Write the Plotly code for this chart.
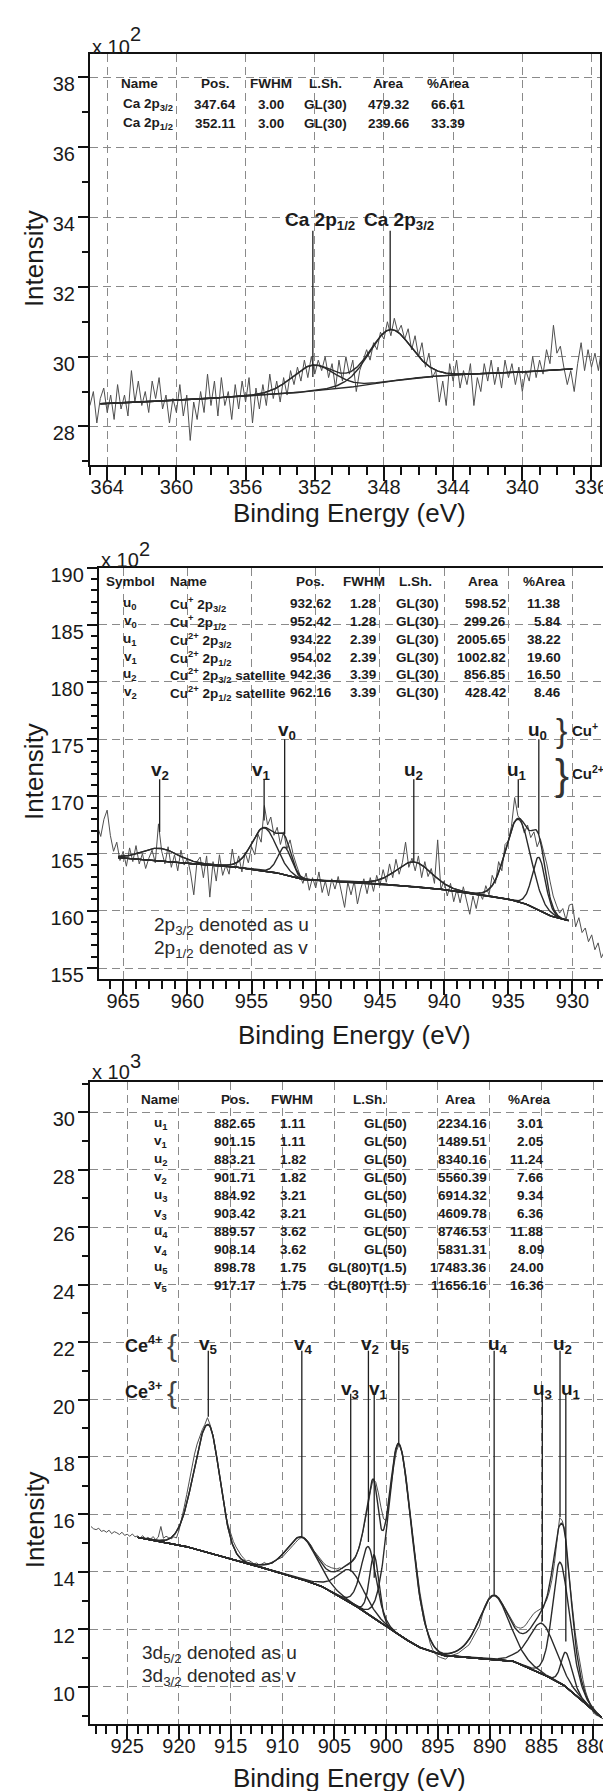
import numpy as np
import plotly.graph_objects as go

W, H = 611, 1791
FONT = "Liberation Sans, Arial, Helvetica, sans-serif"


def sub(s):
    return f'<span style="font-size:70%;baseline-shift:-0.3em">{s}</span>'


def sup(s):
    return f'<span style="font-size:70%;baseline-shift:0.6em">{s}</span>'


# ======================= Panel 1 : Ca 2p  (Intensity x 10^2) =======================
ca_e_start, ca_e_step = 365.0, 0.2
ca_counts = [
    28.6, 29.0, 28.1, 28.8, 29.1, 28.4, 28.9, 28.2, 29.2, 28.5,
    28.9, 28.3, 29.6, 28.7, 29.3, 28.6, 29.0, 28.4, 29.3, 28.8,
    29.4, 28.5, 28.9, 28.1, 28.8, 28.4, 29.2, 28.3, 28.9, 27.6,
    28.7, 28.2, 29.0, 28.4, 29.5, 28.6, 29.3, 28.3, 29.4, 28.6,
    29.0, 28.2, 29.2, 28.5, 29.3, 28.7, 29.4, 28.1, 29.1, 28.5,
    29.2, 28.6, 29.5, 28.8, 29.3, 28.7, 29.4, 28.9, 29.6, 29.2,
    29.7, 29.3, 29.9, 29.4, 30.0, 29.5, 29.9, 29.6, 30.0, 29.4,
    29.8, 29.1, 29.9, 29.3, 30.0, 29.5, 29.9, 29.0, 29.6, 29.9,
    30.2, 29.9, 30.4, 30.2, 30.7, 30.5, 31.0, 30.6, 31.1, 30.7,
    30.9, 30.5, 30.8, 30.2, 30.6, 30.0, 30.4, 29.7, 30.1, 29.4,
    29.6, 28.7, 29.3, 28.6, 29.8, 29.3, 29.9, 29.1, 29.6, 29.2,
    29.8, 28.6, 29.4, 29.0, 29.8, 29.3, 29.9, 29.2, 29.7, 29.1,
    29.9, 29.4, 29.8, 29.2, 29.7, 29.0, 29.6, 29.3, 30.0, 29.4,
    29.9, 29.5, 30.2, 29.8, 30.9, 30.1, 30.3, 29.7, 29.2, 29.6,
    29.0, 29.8, 30.4, 29.6, 30.2, 29.7, 30.1, 29.6, 30.3]
ca_bg_e = [364.4, 360.0, 356.0, 354.0, 352.0, 350.0, 348.0, 346.0, 344.0, 340.0, 337.1]
ca_bg_v = [28.65, 28.75, 28.87, 28.93, 29.02, 29.12, 29.27, 29.40, 29.48, 29.56, 29.65]
ca_names = ["Ca 2p" + sub("3/2"), "Ca 2p" + sub("1/2")]
ca_pos = [347.64, 352.11]
ca_fwhm = [3.00, 3.00]
ca_lsh = ["GL(30)", "GL(30)"]
ca_area = [479.32, 239.66]
ca_parea = [66.61, 33.39]
ca_mix = [0.3, 0.3]
ca_height = [1.48, 0.74]
ca_mark_text = ["Ca 2p" + sub("1/2"), "Ca 2p" + sub("3/2")]
ca_mark_e = [352.11, 347.64]
ca_mark_top = [33.61, 33.61]
ca_mark_bot = [29.42, 30.76]

# ======================= Panel 2 : Cu 2p  (Intensity x 10^2) =======================
cu_e_start, cu_e_step = 967.0, 0.25
cu_counts = [
    167.4, 166.5, 168.0, 168.8, 166.6, 165.2, 166.0, 164.4,
    165.2, 163.9, 165.5, 164.3, 165.7, 164.1, 165.0, 163.7,
    164.6, 165.3, 164.2, 167.6, 165.2, 164.1, 165.6, 163.8,
    164.9, 163.5, 165.3, 164.0, 164.6, 163.3, 161.4, 164.3,
    164.7, 162.9, 164.8, 161.2, 164.3, 162.6, 164.9, 163.1,
    164.0, 163.2, 165.4, 163.7, 164.8, 163.4, 165.1, 164.2,
    165.6, 164.9, 166.7, 166.0, 169.2, 167.5, 168.2, 166.6,
    167.3, 165.8, 166.9, 165.4, 166.2, 164.9, 164.0, 163.2,
    162.4, 163.3, 161.8, 162.9, 162.0, 163.4, 161.6, 162.6,
    161.3, 162.8, 161.9, 163.0, 161.7, 160.3, 162.5, 161.4,
    162.6, 160.6, 161.9, 162.8, 161.5, 162.9, 161.7, 163.1,
    162.2, 163.6, 162.5, 164.1, 162.9, 164.5, 163.2, 164.2,
    166.0, 163.8, 164.6, 163.5, 164.8, 162.9, 164.3, 163.0,
    163.7, 162.4, 166.2, 161.9, 162.6, 161.3, 162.4, 160.8,
    161.9, 160.7, 162.1, 161.0, 159.7, 161.3, 160.2, 161.6,
    161.0, 162.2, 161.4, 163.1, 162.4, 164.3, 163.5, 165.8,
    166.1, 167.4, 169.9, 168.3, 167.9, 166.8, 167.5, 166.4,
    166.9, 165.6, 166.3, 165.2, 164.1, 162.6, 161.3, 160.5,
    159.8, 160.2, 159.2, 160.5, 160.6, 158.6, 159.4, 158.1,
    158.5, 157.3, 157.9, 156.6, 157.2, 155.9, 156.5, 155.1,
    155.8]
cu_bg_e = [965.4, 962.0, 957.0, 953.3, 951.2, 945.5, 941.0, 937.7, 935.3, 933.8, 932.0, 930.6, 930.3]
cu_bg_v = [164.65, 164.3, 163.93, 163.4, 162.75, 162.4, 162.0, 161.5, 161.1, 160.7, 159.65, 159.2, 159.15]
cu_sym = ["u" + sub("0"), "v" + sub("0"), "u" + sub("1"), "v" + sub("1"), "u" + sub("2"), "v" + sub("2")]
cu_names = ["Cu" + sup("+") + " 2p" + sub("3/2"), "Cu" + sup("+") + " 2p" + sub("1/2"),
            "Cu" + sup("2+") + " 2p" + sub("3/2"), "Cu" + sup("2+") + " 2p" + sub("1/2"),
            "Cu" + sup("2+") + " 2p" + sub("3/2") + " satellite",
            "Cu" + sup("2+") + " 2p" + sub("1/2") + " satellite"]
cu_pos = [932.62, 952.42, 934.22, 954.02, 942.36, 962.16]
cu_fwhm = [1.28, 1.28, 2.39, 2.39, 3.39, 3.39]
cu_lsh = ["GL(30)"] * 6
cu_area = [598.52, 299.26, 2005.65, 1002.82, 856.85, 428.42]
cu_parea = [11.38, 5.84, 38.22, 19.60, 16.50, 8.46]
cu_mix = [0.3] * 6
cu_height = [4.66, 2.44, 7.2, 3.75, 2.15, 1.15]
cu_mark_top = [175.0, 175.0, 171.5, 171.5, 171.5, 171.5]
cu_mark_bot = [166.7, 166.7, 169.0, 167.9, 164.3, 166.9]

# ======================= Panel 3 : Ce 3d  (Intensity x 10^3) =======================
ce_e_start, ce_e_step = 928.5, 0.25
ce_counts = [
    15.58, 15.50,
    15.47, 15.52, 15.41, 15.44, 15.38, 15.45, 15.33, 15.40,
    15.36, 15.30, 15.38, 15.27, 15.31, 15.24, 15.32, 15.22,
    15.25, 15.18, 15.26, 15.15, 15.20, 15.14, 15.23, 15.12,
    15.21, 15.58, 15.17, 15.24, 15.19, 15.15, 15.22, 15.18,
    15.44, 15.80, 16.25, 16.70, 17.17, 17.65, 18.10, 18.45,
    18.73, 18.95, 19.13, 19.37, 19.13, 18.80, 18.33, 17.78,
    17.17, 16.55, 16.00, 15.62, 15.33, 15.06, 14.87, 14.70,
    14.58, 14.47, 14.38, 14.40, 14.35, 14.28, 14.31, 14.24,
    14.27, 14.33, 14.26, 14.30, 14.29, 14.36, 14.44, 14.47,
    14.52, 14.62, 14.71, 14.83, 14.92, 15.02, 15.12, 15.18,
    15.21, 15.15, 15.04, 14.93, 14.75, 14.63, 14.52, 14.41,
    14.29, 14.22, 14.17, 14.14, 14.12, 14.10, 14.14, 14.11,
    14.18, 14.22, 14.28, 14.35, 14.46, 14.70, 14.98, 15.38,
    15.79, 16.30, 16.83, 17.23, 17.12, 16.75, 16.25, 15.85,
    15.79, 16.35, 17.06, 17.70, 18.21, 18.44, 18.21, 17.62,
    16.94, 16.20, 15.44, 14.68, 13.94, 13.32, 12.79, 12.30,
    11.87, 11.52, 11.29, 11.15, 11.06, 11.02, 11.00, 10.96,
    11.06, 11.08, 11.10, 11.14, 11.18, 11.25, 11.32, 11.38,
    11.46, 11.62, 11.80, 11.95, 12.10, 12.45, 12.79, 12.98,
    13.14, 13.18, 13.20, 13.12, 13.02, 12.88, 12.73, 12.55,
    12.39, 12.24, 12.10, 12.06, 12.04, 12.08, 12.16, 12.30,
    12.45, 12.55, 12.62, 12.68, 12.73, 12.86, 13.02, 13.30,
    13.71, 14.30, 15.10, 15.88, 15.79, 15.45, 14.41, 13.50,
    12.56, 11.90, 11.29, 10.75, 10.25, 9.85, 9.56, 9.30,
    9.10, 9.02, 8.98, 8.92, 8.87]
ce_bg_e = [924.0, 920.0, 915.0, 910.0, 906.5, 904.0, 902.0, 899.4, 897.0, 894.7,
           891.2, 887.8, 885.5, 883.0, 881.3, 879.8, 879.2]
ce_bg_v = [15.20, 14.95, 14.45, 13.95, 13.55, 13.05, 12.60, 11.95, 11.40, 11.10,
           11.00, 10.90, 10.55, 10.10, 9.60, 9.10, 8.93]
ce_sym = ["u" + sub("1"), "v" + sub("1"), "u" + sub("2"), "v" + sub("2"), "u" + sub("3"),
          "v" + sub("3"), "u" + sub("4"), "v" + sub("4"), "u" + sub("5"), "v" + sub("5")]
ce_pos = [882.65, 901.15, 883.21, 901.71, 884.92, 903.42, 889.57, 908.14, 898.78, 917.17]
ce_fwhm = [1.11, 1.11, 1.82, 1.82, 3.21, 3.21, 3.62, 3.62, 1.75, 1.75]
ce_lsh = ["GL(50)"] * 8 + ["GL(80)T(1.5)"] * 2
ce_area = [2234.16, 1489.51, 8340.16, 5560.39, 6914.32, 4609.78, 8746.53, 5831.31, 17483.36, 11656.16]
ce_parea = [3.01, 2.05, 11.24, 7.66, 9.34, 6.36, 11.88, 8.09, 24.00, 16.36]
# widths (high-BE side / low-BE side), mix and heights of the drawn components
ce_w_hi = [1.11, 1.11, 1.82, 1.82, 3.21, 3.21, 3.62, 3.62, 2.5, 3.4]
ce_w_lo = [1.5, 1.11, 2.3, 1.82, 3.21, 3.21, 3.62, 3.62, 3.0, 2.7]
ce_mix = [0.5] * 8 + [0.3, 0.15]
ce_height = [1.2, 2.2, 4.2, 2.35, 1.75, 1.13, 2.22, 1.47, 6.64, 4.46]
ce_mark_top = [20.2, 20.2, 21.7, 21.7, 20.2, 20.2, 21.7, 21.7, 21.7, 21.7]
ce_mark_bot = [11.58, 13.8, 15.9, 15.04, 12.27, 14.06, 13.2, 15.21, 18.44, 19.4]

# ---------------------------------------------------------------------------------
RAW = dict(color="#4f4f4f", width=1)
FIT = dict(color="#2a2a2a", width=1.4)


def gl(x, pos, w_hi, w_lo, m, h):
    w = np.where(x > pos, w_hi, w_lo)
    d2 = ((x - pos) / w) ** 2
    return h * np.exp(-4 * np.log(2) * (1 - m) * d2) / (1 + 4 * m * d2)


fig = go.Figure()
anns = []


def T(px, py, text, size=13.5, xanchor="center", bold=False, color="#1c1c1c"):
    anns.append(dict(x=px / W, y=1 - py / H, xref="paper", yref="paper",
                     text=text, showarrow=False, xanchor=xanchor, yanchor="middle",
                     font=dict(family=FONT, size=size, color=color,
                               weight="bold" if bold else "normal")))


def add_panel(k, e_start, e_step, counts, bg_e, bg_v, pos, w_hi, w_lo, mix, height,
              mark_e, mark_top, mark_bot):
    xa, ya = ("x", "y") if k == 1 else (f"x{k}", f"y{k}")
    e = e_start - e_step * np.arange(len(counts))
    fig.add_trace(go.Scatter(x=e, y=counts, mode="lines", line=RAW, xaxis=xa, yaxis=ya))
    xg = np.linspace(bg_e[0], bg_e[-1], 700)
    bg = np.interp(xg, bg_e[::-1], bg_v[::-1])
    comps = [gl(xg, p, a, b, m, h) for p, a, b, m, h in zip(pos, w_hi, w_lo, mix, height)]
    fig.add_trace(go.Scatter(x=xg, y=bg, mode="lines", line=FIT, xaxis=xa, yaxis=ya))
    for c in comps:
        fig.add_trace(go.Scatter(x=xg, y=bg + c, mode="lines", line=FIT, xaxis=xa, yaxis=ya))
    fig.add_trace(go.Scatter(x=xg, y=bg + np.sum(comps, axis=0), mode="lines", line=FIT,
                             xaxis=xa, yaxis=ya))
    for me, mt, mb in zip(mark_e, mark_top, mark_bot):
        fig.add_trace(go.Scatter(x=[me, me], y=[mt, mb], mode="lines",
                                 line=dict(color="#1e1e1e", width=1.3), xaxis=xa, yaxis=ya))


add_panel(1, ca_e_start, ca_e_step, ca_counts, ca_bg_e, ca_bg_v, ca_pos, ca_fwhm, ca_fwhm,
          ca_mix, ca_height, ca_mark_e, ca_mark_top, ca_mark_bot)
add_panel(2, cu_e_start, cu_e_step, cu_counts, cu_bg_e, cu_bg_v, cu_pos, cu_fwhm, cu_fwhm,
          cu_mix, cu_height, cu_pos, cu_mark_top, cu_mark_bot)
add_panel(3, ce_e_start, ce_e_step, ce_counts, ce_bg_e, ce_bg_v, ce_pos, ce_w_hi, ce_w_lo,
          ce_mix, ce_height, ce_pos, ce_mark_top, ce_mark_bot)


def axis_pair(xdom, ydom, xr, yr, xt0, xdt, yt0, ydt, anchor_x, anchor_y):
    common = dict(showline=True, linecolor="#111111", linewidth=2, mirror=True,
                  ticks="outside", tickcolor="#111111", tickwidth=2,
                  showgrid=True, gridcolor="#8a8a8a", griddash="8px,5px", gridwidth=1,
                  zeroline=False, tickfont=dict(family=FONT, size=20, color="#1a1a1a"))
    xa = dict(common, domain=[xdom[0] / W, xdom[1] / W], range=xr, anchor=anchor_y,
              tick0=xt0, dtick=xdt, ticklen=14, ticklabelstandoff=-11,
              minor=dict(tick0=xt0, dtick=1, ticks="outside", ticklen=8, tickwidth=2,
                         tickcolor="#111111", showgrid=False))
    ya = dict(common, domain=[1 - ydom[1] / H, 1 - ydom[0] / H], range=yr, anchor=anchor_x,
              tick0=yt0, dtick=ydt, ticklen=10, ticklabelshift=7, ticklabelstandoff=-1,
              minor=dict(tick0=yt0, dtick=1, ticks="outside", ticklen=6, tickwidth=2,
                         tickcolor="#111111", showgrid=False))
    return xa, ya


x1, y1 = axis_pair((83, 600), (42, 456), [365.0, 335.5], [26.89, 38.68], 364, 4, 28, 2, "x", "y")
x2, y2 = axis_pair((92, 609), (559, 973), [966.9, 927.15], [154.04, 190.0], 965, 5, 155, 5, "x2", "y2")
x3, y3 = axis_pair((83, 605), (1077, 1723), [928.6, 878.86], [8.69, 31.04], 925, 5, 10, 2, "x3", "y3")

# ---------------- text: multipliers, axis titles ----------------
for (lx, ly, sx, sy, sp) in [(83, 35, 129, 22, "2"), (92, 551, 138, 540, "2"), (83, 1067, 129, 1055, "3")]:
    T(lx, ly, "x 10", size=20, xanchor="left")
    T(sx, sy, sp, size=20)
T(346, 504, "Binding Energy (eV)", size=26)
T(351, 1029, "Binding Energy (eV)", size=26)
T(346, 1777, "Binding Energy (eV)", size=26)
for iy in (248, 764, 1517):
    anns.append(dict(x=27 / W, y=1 - iy / H, xref="paper", yref="paper", text="Intensity",
                     textangle=-90, showarrow=False, xanchor="center", yanchor="middle",
                     font=dict(family=FONT, size=26, color="#1a1a1a")))

# ---------------- Panel 1 table & labels ----------------
hdr1 = ["Name", "Pos.", "FWHM", "L.Sh.", "Area", "%Area"]
col1 = [133, 210, 266, 322, 386, 446]
for h_, cx in zip(hdr1, col1):
    T(cx, 72, h_, bold=True)
for i in range(len(ca_names)):
    ry = 93 + 19.5 * i
    T(115, ry, ca_names[i], bold=True, xanchor="left")
    T(col1[1], ry, f"{ca_pos[i]:.2f}", bold=True)
    T(col1[2], ry, f"{ca_fwhm[i]:.2f}", bold=True)
    T(col1[3], ry, ca_lsh[i], bold=True)
    T(col1[4], ry, f"{ca_area[i]:.2f}", bold=True)
    T(col1[5], ry, f"{ca_parea[i]:.2f}", bold=True)
T(316, 210, ca_mark_text[0], size=19, bold=True)
T(396, 210, ca_mark_text[1], size=19, bold=True)

# ---------------- Panel 2 table & labels ----------------
T(124, 573, "Symbol", bold=True)
T(162, 573, "Name", bold=True, xanchor="left")
for h_, cx in zip(["Pos.", "FWHM", "L.Sh.", "Area", "%Area"], [307, 361, 413, 482, 544]):
    T(cx, 573, h_, bold=True)
for i in range(len(cu_sym)):
    ry = 595 + 18 * i
    T(124, ry, cu_sym[i], bold=True)
    T(162, ry, cu_names[i], bold=True, xanchor="left")
    T(307, ry, f"{cu_pos[i]:.2f}", bold=True)
    T(360, ry, f"{cu_fwhm[i]:.2f}", bold=True)
    T(415, ry, cu_lsh[i], bold=True)
    T(507, ry, f"{cu_area[i]:.2f}", bold=True, xanchor="right")
    T(562, ry, f"{cu_parea[i]:.2f}", bold=True, xanchor="right")
cu_lab_xy = [(537, 723), (283, 723), (516, 764), (257, 764), (411, 764), (154, 764)]
for (lx, ly), s in zip(cu_lab_xy, cu_sym):
    T(lx, ly, s, size=19, bold=True)
T(561, 722, "}", size=34, color="#333333")
T(561, 767, "}", size=42, color="#333333")
T(569, 722, "Cu" + sup("+"), size=15, bold=True, xanchor="left")
T(569, 765, "Cu" + sup("2+"), size=15, bold=True, xanchor="left")
T(146, 920, "2p" + sub("3/2") + " denoted as u", size=19, xanchor="left", color="#2a2a2a")
T(146, 943, "2p" + sub("1/2") + " denoted as v", size=19, xanchor="left", color="#2a2a2a")

# ---------------- Panel 3 table & labels ----------------
for h_, cx in zip(["Name", "Pos.", "FWHM", "L.Sh.", "Area", "%Area"], [154, 231, 288, 366, 458, 528]):
    T(cx, 1094, h_, bold=True)
for i in range(len(ce_sym)):
    ry = 1118 + 18.2 * i
    T(155, ry, ce_sym[i], bold=True)
    T(230, ry, f"{ce_pos[i]:.2f}", bold=True)
    T(289, ry, f"{ce_fwhm[i]:.2f}", bold=True)
    T(406, ry, ce_lsh[i], bold=True, xanchor="right")
    T(487, ry, f"{ce_area[i]:.2f}", bold=True, xanchor="right")
    T(545, ry, f"{ce_parea[i]:.2f}", bold=True, xanchor="right")
ce_lab_xy = [(570, 1387), (375, 1387), (562, 1341), (367, 1341), (542, 1387),
             (347, 1387), (496, 1341), (299, 1341), (397, 1341), (203, 1341)]
for (lx, ly), s in zip(ce_lab_xy, ce_sym):
    T(lx, ly, s, size=19, bold=True)
T(137, 1341, "Ce" + sup("4+"), size=18, bold=True)
T(137, 1387, "Ce" + sup("3+"), size=18, bold=True)
T(166, 1342, "{", size=30, color="#444444")
T(166, 1389, "{", size=30, color="#444444")
T(134, 1652, "3d" + sub("5/2") + " denoted as u", size=19, xanchor="left", color="#2a2a2a")
T(134, 1675, "3d" + sub("3/2") + " denoted as v", size=19, xanchor="left", color="#2a2a2a")

fig.update_layout(width=W, height=H, margin=dict(l=0, r=0, t=0, b=0),
                  paper_bgcolor="white", plot_bgcolor="white", showlegend=False,
                  xaxis=x1, yaxis=y1, xaxis2=x2, yaxis2=y2, xaxis3=x3, yaxis3=y3,
                  annotations=anns)
fig.write_html("out.html")
